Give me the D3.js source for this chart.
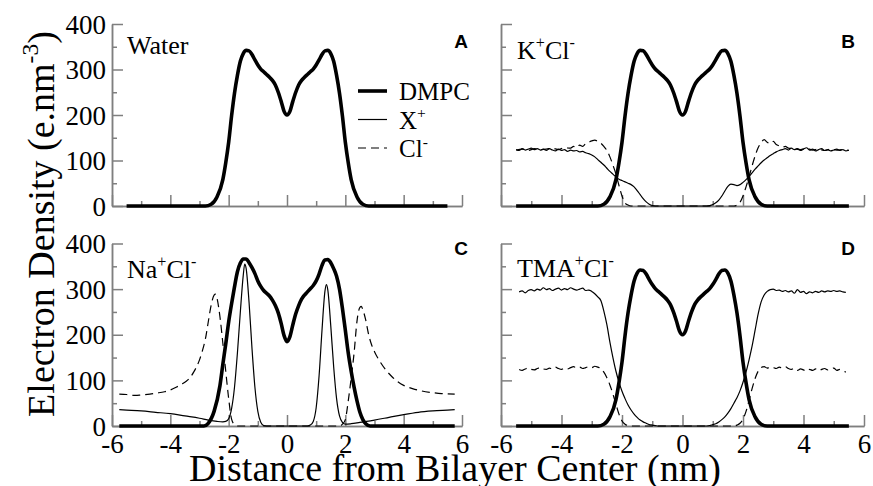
<!DOCTYPE html>
<html>
<head>
<meta charset="utf-8">
<script src="https://cdn.jsdelivr.net/npm/d3@7"></script>
<style>
  body { margin: 0; background: #fff; }
  svg { display: block; }
</style>
</head>
<body>
<div id="chart"></div>
<script>
// Axis ticks
const xTicksMajor = [-6, -4, -2, 0, 2, 4, 6];
const xTicksMinor = [-5, -3, -1, 1, 3, 5];
const yTicksMajor = [0, 100, 200, 300, 400];
const yTicksMinor = [50, 150, 250, 350];

// Labels
const panelLetters = ['A', 'B', 'C', 'D'];
const saltNames = ['Water', 'K^{+}Cl^{-}', 'Na^{+}Cl^{-}', 'TMA^{+}Cl^{-}'];
const legendNames = ['DMPC', 'X^{+}', 'Cl^{-}'];

// DMPC profile (water, KCl and TMACl look the same)
const dmpcDensity = [[-5.5,0],[-2.8,0],[-2.6,4],[-2.4,20],[-2.2,58],[-2.1,95],[-2.0,140],[-1.9,198],[-1.8,248],[-1.7,287],[-1.6,318],[-1.5,335],[-1.4,342],[-1.3,341],[-1.2,333],[-1.1,321],[-1.0,310],[-0.9,301],[-0.8,295],[-0.7,289],[-0.6,283],[-0.5,276],[-0.4,266],[-0.3,250],[-0.2,230],[-0.1,208],[0,200],[0.1,208],[0.2,230],[0.3,250],[0.4,266],[0.5,276],[0.6,283],[0.7,289],[0.8,295],[0.9,301],[1.0,310],[1.1,321],[1.2,333],[1.3,341],[1.4,342],[1.5,335],[1.6,318],[1.7,287],[1.8,248],[1.9,198],[2.0,140],[2.1,95],[2.2,58],[2.4,20],[2.6,4],[2.8,0],[5.5,0]];

// K+Cl-
const kCation = [[-5.5,124],[-5.4,122],[-5.3,126],[-5.2,123],[-5.1,125],[-5.0,127],[-4.9,124],[-4.8,126],[-4.7,123],[-4.6,125],[-4.5,122],[-4.4,126],[-4.3,123],[-4.2,121],[-4.1,125],[-4.0,122],[-3.9,124],[-3.8,120],[-3.7,123],[-3.6,121],[-3.5,122],[-3.4,119],[-3.3,120],[-3.2,117],[-3.1,115],[-3.0,112],[-2.9,108],[-2.8,102],[-2.7,96],[-2.6,90],[-2.5,83],[-2.4,76],[-2.3,70],[-2.2,64],[-2.1,59],[-2.0,56],[-1.9,53],[-1.8,50],[-1.7,47],[-1.6,42],[-1.5,34],[-1.4,25],[-1.3,16],[-1.2,9],[-1.1,4],[-1.0,1],[-0.9,0],[0.8,0],[0.9,1],[1.0,3],[1.1,7],[1.2,13],[1.3,22],[1.4,33],[1.5,43],[1.6,48],[1.7,47],[1.8,45],[1.9,47],[2.0,52],[2.1,58],[2.2,65],[2.3,73],[2.4,81],[2.5,88],[2.6,95],[2.7,101],[2.8,106],[2.9,111],[3.0,115],[3.1,119],[3.2,122],[3.3,124],[3.4,126],[3.5,123],[3.6,127],[3.7,124],[3.8,126],[3.9,122],[4.0,125],[4.1,128],[4.2,123],[4.3,125],[4.4,121],[4.5,124],[4.6,126],[4.7,122],[4.8,124],[4.9,121],[5.0,123],[5.1,125],[5.2,122],[5.3,124],[5.4,121],[5.5,123]];
const kChloride = [[-5.5,123],[-5.3,125],[-5.1,122],[-4.9,126],[-4.7,124],[-4.5,125],[-4.3,127],[-4.1,124],[-3.9,128],[-3.7,127],[-3.6,131],[-3.5,128],[-3.4,134],[-3.3,131],[-3.2,137],[-3.1,140],[-3.0,143],[-2.9,145],[-2.8,142],[-2.7,138],[-2.6,131],[-2.5,122],[-2.4,108],[-2.3,90],[-2.2,70],[-2.1,45],[-2.0,22],[-1.9,7],[-1.8,2],[-1.7,0],[1.7,0],[1.8,2],[1.9,8],[2.0,22],[2.1,42],[2.2,64],[2.3,88],[2.4,110],[2.5,128],[2.6,139],[2.7,146],[2.8,140],[2.9,137],[3.0,142],[3.1,135],[3.2,132],[3.3,129],[3.4,131],[3.5,127],[3.7,126],[3.9,124],[4.1,127],[4.3,123],[4.5,125],[4.7,122],[4.9,125],[5.1,123],[5.3,124],[5.5,122]];

// Na+Cl-
const naDMPC = [[-5.75,0],[-2.85,0],[-2.7,6],[-2.5,32],[-2.3,88],[-2.2,135],[-2.1,180],[-2.0,228],[-1.9,268],[-1.8,305],[-1.7,338],[-1.6,357],[-1.5,366],[-1.4,366],[-1.3,358],[-1.2,347],[-1.1,334],[-1.0,318],[-0.9,306],[-0.8,297],[-0.7,291],[-0.6,285],[-0.5,276],[-0.4,264],[-0.3,248],[-0.2,225],[-0.1,198],[0,185],[0.1,196],[0.2,222],[0.3,246],[0.4,264],[0.5,278],[0.6,287],[0.7,294],[0.8,301],[0.9,308],[1.0,318],[1.1,333],[1.2,352],[1.3,364],[1.4,365],[1.5,358],[1.6,345],[1.7,328],[1.8,300],[1.9,258],[2.0,210],[2.1,160],[2.2,120],[2.3,85],[2.4,55],[2.5,30],[2.6,14],[2.7,5],[2.85,0],[5.75,0]];
const naCation = [[-5.75,36],[-5.5,35],[-5.0,33],[-4.5,30],[-4.0,27],[-3.5,22],[-3.0,17],[-2.7,13],[-2.4,10],[-2.2,9],[-2.1,10],[-2.0,16],[-1.9,38],[-1.8,85],[-1.7,160],[-1.6,250],[-1.5,330],[-1.45,355],[-1.4,345],[-1.3,270],[-1.2,170],[-1.1,85],[-1.0,32],[-0.9,8],[-0.8,1],[-0.7,0],[0.7,0],[0.8,2],[0.9,10],[1.0,40],[1.1,110],[1.2,210],[1.3,295],[1.35,310],[1.4,298],[1.5,220],[1.6,130],[1.7,60],[1.8,22],[1.9,8],[2.0,4],[2.2,5],[2.5,8],[3.0,13],[3.5,19],[4.0,25],[4.5,30],[5.0,33],[5.5,35],[5.75,36]];
const naChloride = [[-5.75,70],[-5.5,69],[-5.2,67],[-5.0,68],[-4.7,70],[-4.5,72],[-4.2,75],[-4.0,79],[-3.8,85],[-3.6,92],[-3.4,101],[-3.2,118],[-3.0,145],[-2.9,165],[-2.8,190],[-2.7,228],[-2.6,265],[-2.5,287],[-2.45,289],[-2.4,280],[-2.3,240],[-2.2,182],[-2.1,120],[-2.0,60],[-1.9,15],[-1.8,3],[-1.7,0],[1.8,0],[1.9,4],[2.0,14],[2.1,55],[2.2,105],[2.3,160],[2.4,230],[2.5,260],[2.55,262],[2.6,255],[2.7,232],[2.8,200],[2.9,178],[3.0,163],[3.2,140],[3.4,122],[3.6,108],[3.8,97],[4.0,89],[4.3,82],[4.6,77],[5.0,73],[5.3,71],[5.75,70]];

// TMA+Cl-
const tmaCation = [[-5.4,294],[-5.3,296],[-5.2,292],[-5.1,297],[-5.0,299],[-4.9,296],[-4.8,300],[-4.7,298],[-4.6,303],[-4.5,299],[-4.4,301],[-4.3,297],[-4.2,300],[-4.1,302],[-4.0,298],[-3.9,301],[-3.8,299],[-3.7,303],[-3.6,300],[-3.5,298],[-3.4,300],[-3.3,302],[-3.2,297],[-3.1,298],[-3.0,295],[-2.9,290],[-2.8,283],[-2.7,275],[-2.6,252],[-2.5,222],[-2.4,184],[-2.3,150],[-2.2,120],[-2.1,96],[-2.0,76],[-1.9,60],[-1.8,46],[-1.7,35],[-1.6,26],[-1.5,19],[-1.4,13],[-1.3,9],[-1.2,6],[-1.1,3],[-1.0,2],[-0.9,1],[-0.8,0],[0.8,0],[0.9,1],[1.0,3],[1.1,5],[1.2,9],[1.3,14],[1.4,20],[1.5,28],[1.6,38],[1.7,50],[1.8,62],[1.9,77],[2.0,96],[2.1,118],[2.2,145],[2.3,175],[2.4,210],[2.5,245],[2.6,272],[2.7,287],[2.8,295],[2.9,299],[3.0,300],[3.1,297],[3.2,298],[3.3,295],[3.4,297],[3.5,294],[3.6,296],[3.7,291],[3.8,299],[3.9,293],[4.0,295],[4.1,290],[4.2,294],[4.3,292],[4.4,295],[4.5,293],[4.6,296],[4.7,294],[4.8,296],[4.9,295],[5.0,297],[5.1,295],[5.2,296],[5.3,294],[5.4,293]];
const tmaChloride = [[-5.4,124],[-5.3,122],[-5.2,125],[-5.1,127],[-5.0,124],[-4.9,123],[-4.8,126],[-4.7,128],[-4.6,125],[-4.5,124],[-4.4,127],[-4.3,125],[-4.2,129],[-4.1,126],[-4.0,124],[-3.9,127],[-3.8,125],[-3.7,128],[-3.6,130],[-3.5,127],[-3.4,129],[-3.3,126],[-3.2,128],[-3.1,130],[-3.0,128],[-2.9,131],[-2.8,129],[-2.7,126],[-2.6,118],[-2.5,106],[-2.4,90],[-2.3,70],[-2.2,48],[-2.1,26],[-2.0,11],[-1.9,4],[-1.8,1],[-1.7,0],[1.7,0],[1.8,2],[1.9,6],[2.0,15],[2.1,32],[2.2,56],[2.3,82],[2.4,104],[2.5,120],[2.6,128],[2.7,130],[2.8,127],[2.9,129],[3.0,128],[3.1,126],[3.2,129],[3.3,127],[3.4,130],[3.5,126],[3.6,124],[3.7,127],[3.8,122],[3.9,125],[4.0,123],[4.1,120],[4.2,124],[4.3,122],[4.4,125],[4.5,121],[4.6,124],[4.7,126],[4.8,123],[4.9,125],[5.0,127],[5.1,122],[5.2,124],[5.3,121],[5.4,118]];

const panelSeries = [
    { dmpc: dmpcDensity, cation: null, chloride: null },
    { dmpc: dmpcDensity, cation: kCation, chloride: kChloride },
    { dmpc: naDMPC, cation: naCation, chloride: naChloride },
    { dmpc: dmpcDensity, cation: tmaCation, chloride: tmaChloride }
];

// Layout
const width = 873, height = 486;
const serif = '"Liberation Serif", "Times New Roman", serif';
const sans = '"Liberation Sans", Arial, sans-serif';
const axisColor = '#7f7f7f';

const layout = [
    { left: 112, right: 462, top: 24, bottom: 206, yLabels: true, xLabels: false, letter: [468, 48], name: [127, 54] },
    { left: 501, right: 864, top: 24, bottom: 206, yLabels: false, xLabels: false, letter: [855, 48], name: [517, 59] },
    { left: 112, right: 462, top: 243.5, bottom: 426, yLabels: true, xLabels: true, letter: [468, 255], name: [127, 278] },
    { left: 501, right: 864, top: 243.5, bottom: 426, yLabels: false, xLabels: true, letter: [855, 255], name: [517, 277] }
];

const svg = d3.select('#chart')
    .append('svg')
    .attr('width', width)
    .attr('height', height)
    .style('background', '#fff');

// text with ^{...} superscripts
function richText(sel, str, size) {
    const parts = str.split(/\^\{(.*?)\}/);
    const shift = size * 0.42;
    let raised = false;
    parts.forEach((p, i) => {
        if (!p) return;
        const sup = i % 2 === 1;
        const t = sel.append('tspan').text(p);
        if (sup) {
            t.attr('font-size', size * 0.62).attr('dy', raised ? 0 : -shift);
            raised = true;
        } else {
            t.attr('font-size', size).attr('dy', raised ? shift : 0);
            raised = false;
        }
    });
}

function styleAxis(g) {
    g.attr('font-family', serif).attr('font-size', 27);
    g.select('.domain').attr('stroke', axisColor).attr('stroke-width', 1.5);
    g.selectAll('.tick line').attr('stroke', axisColor).attr('stroke-width', 1.5);
    g.selectAll('.tick text')
        .attr('fill', '#000')
        .attr('font-family', serif)
        .attr('font-size', 27);
}

layout.forEach((p, i) => {
    const series = panelSeries[i];
    const x = d3.scaleLinear().domain([-6, 6]).range([p.left, p.right]);
    const y = d3.scaleLinear().domain([0, 400]).range([p.bottom, p.top]);
    const g = svg.append('g').attr('class', `panel-${panelLetters[i]}`);

    // minor ticks
    g.append('g')
        .attr('transform', `translate(${p.left},0)`)
        .call(d3.axisLeft(y).tickValues(yTicksMinor).tickSize(-5).tickSizeOuter(0).tickFormat(''))
        .call(styleAxis);
    g.append('g')
        .attr('transform', `translate(0,${p.bottom})`)
        .call(d3.axisBottom(x).tickValues(xTicksMinor).tickSize(-5).tickSizeOuter(0).tickFormat(''))
        .call(styleAxis);

    // major ticks
    g.append('g')
        .attr('transform', `translate(${p.left},0)`)
        .call(d3.axisLeft(y).tickValues(yTicksMajor).tickSize(-11).tickSizeOuter(0).tickPadding(6)
            .tickFormat(d => p.yLabels ? String(d) : ''))
        .call(styleAxis)
        .selectAll('.tick text').attr('dy', '0.34em');
    g.append('g')
        .attr('transform', `translate(0,${p.bottom})`)
        .call(d3.axisBottom(x).tickValues(xTicksMajor).tickSize(-11).tickSizeOuter(0).tickPadding(8)
            .tickFormat(d => p.xLabels ? String(d) : ''))
        .call(styleAxis);

    const line = d3.line()
        .x(d => x(d[0]))
        .y(d => y(d[1]))
        .curve(d3.curveMonotoneX);

    if (series.chloride) {
        g.append('path')
            .datum(series.chloride)
            .attr('fill', 'none')
            .attr('stroke', '#000')
            .attr('stroke-width', 1.2)
            .attr('stroke-dasharray', '8,5')
            .attr('d', line);
    }
    if (series.cation) {
        g.append('path')
            .datum(series.cation)
            .attr('fill', 'none')
            .attr('stroke', '#000')
            .attr('stroke-width', 1.2)
            .attr('d', line);
    }
    g.append('path')
        .datum(series.dmpc)
        .attr('fill', 'none')
        .attr('stroke', '#000')
        .attr('stroke-width', 3.6)
        .attr('stroke-linejoin', 'round')
        .attr('d', line);

    // panel letter
    g.append('text')
        .attr('x', p.letter[0])
        .attr('y', p.letter[1])
        .attr('text-anchor', 'end')
        .attr('font-family', sans)
        .attr('font-weight', 'bold')
        .attr('font-size', 19)
        .text(panelLetters[i]);

    // salt name
    g.append('text')
        .attr('x', p.name[0])
        .attr('y', p.name[1])
        .attr('font-family', serif)
        .call(t => richText(t, saltNames[i], 26));
});

// Legend (panel A)
const legendStyles = [
    { width: 3.6, dash: null },
    { width: 1.2, dash: null },
    { width: 1.2, dash: '8,5' }
];
const legend = svg.append('g').attr('class', 'legend');
legendNames.forEach((name, i) => {
    const ly = 100 + i * 28.5;
    legend.append('line')
        .attr('x1', 358).attr('x2', 387)
        .attr('y1', ly - 9).attr('y2', ly - 9)
        .attr('stroke', '#000')
        .attr('stroke-width', legendStyles[i].width)
        .attr('stroke-dasharray', legendStyles[i].dash);
    legend.append('text')
        .attr('x', 399)
        .attr('y', ly)
        .attr('font-family', serif)
        .call(t => richText(t, name, 25));
});

// Axis titles
svg.append('text')
    .attr('x', 455)
    .attr('y', 481)
    .attr('text-anchor', 'middle')
    .attr('font-family', serif)
    .attr('font-size', 38)
    .text('Distance from Bilayer Center (nm)');

svg.append('text')
    .attr('transform', 'translate(54,224) rotate(-90)')
    .attr('text-anchor', 'middle')
    .attr('font-family', serif)
    .call(t => richText(t, 'Electron Density (e.nm^{-3})', 38));
</script>
</body>
</html>
